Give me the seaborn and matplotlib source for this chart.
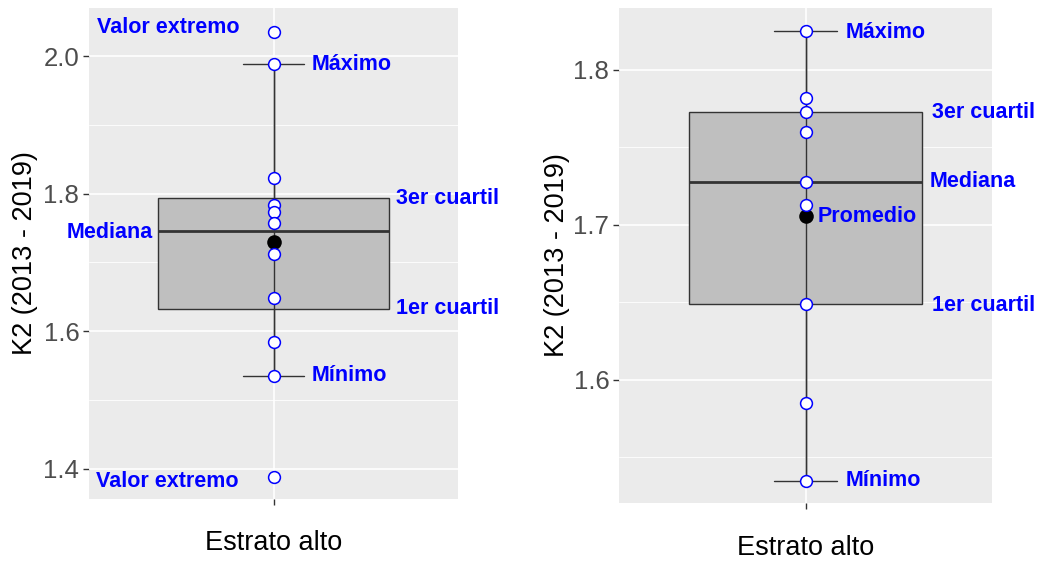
import numpy as np
import pandas as pd
import matplotlib
matplotlib.use("Agg")
import matplotlib.pyplot as plt
import seaborn as sns

# ---------------- data ----------------
category = "Estrato alto"
left_values = [2.035, 1.988, 1.823, 1.783, 1.773, 1.758, 1.713, 1.649, 1.584, 1.535, 1.388]
right_values = [1.825, 1.782, 1.773, 1.760, 1.728, 1.713, 1.649, 1.585, 1.535]

# box statistics (min, q1, median, q3, max)
left_box = [1.535, 1.633, 1.746, 1.794, 1.988]
right_box = [1.535, 1.649, 1.728, 1.773, 1.825]

left_yticks = [1.4, 1.6, 1.8, 2.0]
left_yminor = [1.5, 1.7, 1.9]
right_yticks = [1.6, 1.7, 1.8]
right_yminor = [1.55, 1.65, 1.75]

left_ylim = (1.356, 2.070)
right_ylim = (1.5206, 1.840)

# annotations: (text, x offset in category units, y value, ha)
left_labels = [
    ("Valor extremo", -0.574, 2.042, "left"),
    ("Máximo", 0.125, 1.988, "left"),
    ("3er cuartil", 0.40, 1.793, "left"),
    ("Mediana", -0.392, 1.744, "right"),
    ("1er cuartil", 0.40, 1.633, "left"),
    ("Mínimo", 0.125, 1.535, "left"),
    ("Valor extremo", -0.578, 1.381, "left"),
]
right_labels = [
    ("Máximo", 0.130, 1.8245, "left"),
    ("3er cuartil", 0.407, 1.7725, "left"),
    ("Mediana", 0.400, 1.728, "left"),
    ("Promedio", 0.040, 1.7056, "left"),
    ("1er cuartil", 0.407, 1.648, "left"),
    ("Mínimo", 0.130, 1.535, "left"),
]

# ---------------- style ----------------
sns.set_theme(style="darkgrid")
plt.rcParams["font.family"] = ["Liberation Sans", "DejaVu Sans"]

BG = "#EBEBEB"
DARK = "#333333"
BOXFILL = "#BFBFBF"
BLUE = "#0000FF"

fig = plt.figure(figsize=(10.40, 5.63), dpi=100)
ax_l = fig.add_axes([89 / 1040, (563 - 499) / 563, 369 / 1040, 491 / 563])
ax_r = fig.add_axes([619 / 1040, (563 - 503) / 563, 373 / 1040, 495 / 563])


def draw_panel(ax, values, box, yticks, yminor, ylim, labels):
    ax.set_facecolor(BG)
    for s in ax.spines.values():
        s.set_visible(False)
    ax.grid(False)
    # grid lines
    for y in yminor:
        ax.axhline(y, color="white", lw=0.6, zorder=0.5)
    for y in yticks:
        ax.axhline(y, color="white", lw=1.2, zorder=0.6)
    ax.axvline(0, color="white", lw=1.2, zorder=0.6)

    stats = [dict(whislo=box[0], q1=box[1], med=box[2], q3=box[3], whishi=box[4],
                  fliers=[], label=category)]
    ax.bxp(stats, positions=[0], widths=0.75, patch_artist=True, showfliers=False,
           capwidths=[0.2],
           boxprops=dict(facecolor=BOXFILL, edgecolor=DARK, linewidth=1.0),
           medianprops=dict(color=DARK, linewidth=2.0),
           whiskerprops=dict(color=DARK, linewidth=1.0),
           capprops=dict(color=DARK, linewidth=1.0),
           manage_ticks=False, zorder=2)
    # vertical line through the box (errorbar range)
    ax.vlines([0], [box[0]], [box[4]], color=DARK, linewidth=1.0, zorder=3)

    df = pd.DataFrame({"estrato": [category] * len(values), "k2": values})
    mean_df = pd.DataFrame({"estrato": [category], "k2": [np.mean(values)]})
    sns.stripplot(data=mean_df, x="estrato", y="k2", ax=ax, jitter=False,
                  color="black", size=10.5, linewidth=0, zorder=4)
    sns.stripplot(data=df, x="estrato", y="k2", ax=ax, jitter=False,
                  color="white", edgecolor=BLUE, linewidth=1.1, size=8.5, zorder=5)

    for text, dx, y, ha in labels:
        ax.text(dx, y, text, color=BLUE, fontsize=15.5, fontweight="bold",
                ha=ha, va="center", clip_on=False, zorder=6)

    ax.set_xlim(-0.6, 0.6)
    ax.set_ylim(*ylim)
    ax.set_yticks(yticks)
    ax.set_yticklabels([f"{t:.1f}" for t in yticks])
    ax.set_xticks([0])
    ax.set_xticklabels([""])
    ax.tick_params(axis="both", which="both", length=4, width=1.0, color=DARK,
                   labelsize=18.5, labelcolor="#4D4D4D", pad=3,
                   bottom=True, left=True)
    ax.set_xlabel("Estrato alto", fontsize=19.5, color="black")
    ax.set_ylabel("K2 (2013 - 2019)", fontsize=19.5, color="black")
    ax.xaxis.label.set_va("center")
    ax.yaxis.label.set_va("center")


draw_panel(ax_l, left_values, left_box, left_yticks, left_yminor, left_ylim, left_labels)
draw_panel(ax_r, right_values, right_box, right_yticks, right_yminor, right_ylim, right_labels)

ax_l.yaxis.set_label_coords((25 - 89) / 369, 0.5)
ax_r.yaxis.set_label_coords((557 - 619) / 373, 0.5)
ax_l.xaxis.set_label_coords(0.5, (499 - 543) / 491)
ax_r.xaxis.set_label_coords(0.5, (503 - 548) / 495)

fig.savefig("out.png", dpi=100, facecolor="white")
